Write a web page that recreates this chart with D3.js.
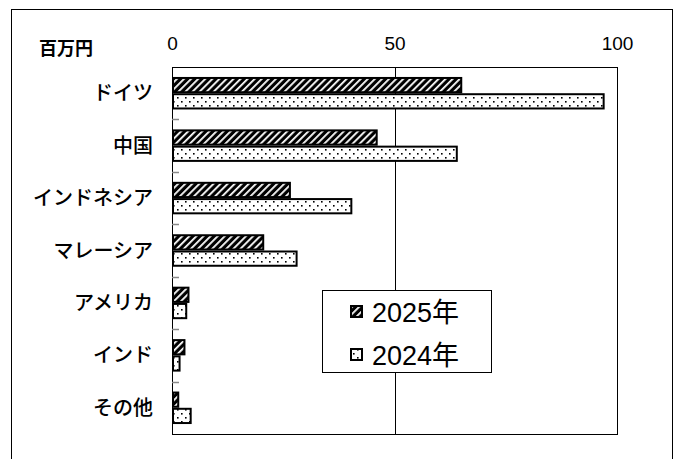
<!DOCTYPE html>
<html><head><meta charset="utf-8">
<script src="https://cdn.jsdelivr.net/npm/d3@7"></script>
<style>body{margin:0;background:#fff}svg{display:block}</style>
</head><body>
<script>
const categories = ["ドイツ","中国","インドネシア","マレーシア","アメリカ","インド","その他"];
const values2025 = [65,46,26.5,20.5,3.7,2.8,1.4];
const values2024 = [97,64,40.3,28,3.2,1.7,4.2];
const seriesNames = ["2025年","2024年"];
const tickValues = [0,50,100];
const unitLabel = "百万円";

const W=679,H=459;
const svg=d3.select("body").append("svg").attr("width",W).attr("height",H);
const defs=svg.append("defs");
const hatch=defs.append("pattern").attr("id","hatch").attr("patternUnits","userSpaceOnUse")
  .attr("width",5).attr("height",5).attr("patternTransform","rotate(45)");
hatch.append("rect").attr("width",5).attr("height",5).attr("fill","#000");
hatch.append("rect").attr("x",0).attr("y",0).attr("width",1.8).attr("height",5).attr("fill","#fff");
const dots=defs.append("pattern").attr("id","dots").attr("patternUnits","userSpaceOnUse")
  .attr("width",8).attr("height",8);
dots.append("rect").attr("width",8).attr("height",8).attr("fill","#fff");
dots.append("rect").attr("x",1).attr("y",1).attr("width",1.6).attr("height",1.6).attr("fill","#000");
dots.append("rect").attr("x",5).attr("y",5).attr("width",1.6).attr("height",1.6).attr("fill","#000");

// outer frame
svg.append("rect").attr("x",11.5).attr("y",9.5).attr("width",661).attr("height",470)
  .attr("fill","none").attr("stroke","#000").attr("stroke-width",1);

const x=d3.scaleLinear().domain([0,100]).range([172,617]);
const y=d3.scaleBand().domain(categories).range([67,434]).paddingInner(0.38).paddingOuter(0.19);
const ys=d3.scaleBand().domain(seriesNames).range([0,y.bandwidth()]);
const step=y.step();

// plot area
svg.append("rect").attr("x",172.5).attr("y",67.5).attr("width",x(100)-172).attr("height",367)
  .attr("fill","none").attr("stroke","#000").attr("stroke-width",1);
// gridline at 50
svg.append("line").attr("x1",Math.round(x(50))+0.5).attr("x2",Math.round(x(50))+0.5)
  .attr("y1",67).attr("y2",434).attr("stroke","#000").attr("stroke-width",1);

// top axis labels
const ax=svg.append("g").attr("transform","translate(0,50)")
  .call(d3.axisTop(x).tickValues(tickValues).tickSize(0).tickPadding(0));
ax.select(".domain").remove();
ax.selectAll("text").attr("font-family","'Liberation Sans',Arial,sans-serif").attr("font-size",19).attr("fill","#000");

svg.append("text").attr("x",66).attr("y",55).attr("text-anchor","middle")
  .attr("font-family","'Noto Sans CJK JP',sans-serif").attr("font-size",18).attr("font-weight","bold").text(unitLabel);

// category ticks
for(let i=1;i<categories.length;i++){
  const yy=Math.round(67+i*step)+0.5;
  svg.append("line").attr("x1",172).attr("x2",179).attr("y1",yy).attr("y2",yy).attr("stroke","#888").attr("stroke-width",1.5);
}
// category labels
svg.append("g").selectAll("text").data(categories).join("text")
  .attr("x",153).attr("y",d=>y(d)+y.bandwidth()/2).attr("dy","0.35em").attr("text-anchor","end")
  .attr("font-family","'Noto Sans CJK JP',sans-serif").attr("font-size",20).attr("font-weight","500").text(d=>d);

const series=[{name:seriesNames[0],vals:values2025,fill:"url(#hatch)"},{name:seriesNames[1],vals:values2024,fill:"url(#dots)"}];
series.forEach(s=>{
  svg.append("g").selectAll("rect").data(categories).join("rect")
    .attr("x",x(0)+1).attr("y",(d)=>y(d)+ys(s.name)+1)
    .attr("width",(d,i)=>Math.max(0,x(s.vals[i])-x(0)-1)).attr("height",ys.bandwidth()-2)
    .attr("fill",s.fill).attr("stroke","#000").attr("stroke-width",2);
});

// legend
const lg=svg.append("g");
lg.append("rect").attr("x",322.5).attr("y",290.5).attr("width",169).attr("height",82).attr("fill","#fff").attr("stroke","#000").attr("stroke-width",1);
series.forEach((s,i)=>{
  const cy=312+i*43;
  lg.append("rect").attr("x",351).attr("y",cy-6).attr("width",11).attr("height",11).attr("fill",s.fill).attr("stroke","#000").attr("stroke-width",2);
  lg.append("text").attr("x",372).attr("y",cy).attr("dy","0.36em")
    .attr("font-family","'Liberation Sans',Arial,sans-serif").attr("font-size",27).text(s.name.replace("年",""))
    .append("tspan").attr("font-family","'Noto Sans CJK JP',sans-serif").text("年");
});
</script>
</body></html>
